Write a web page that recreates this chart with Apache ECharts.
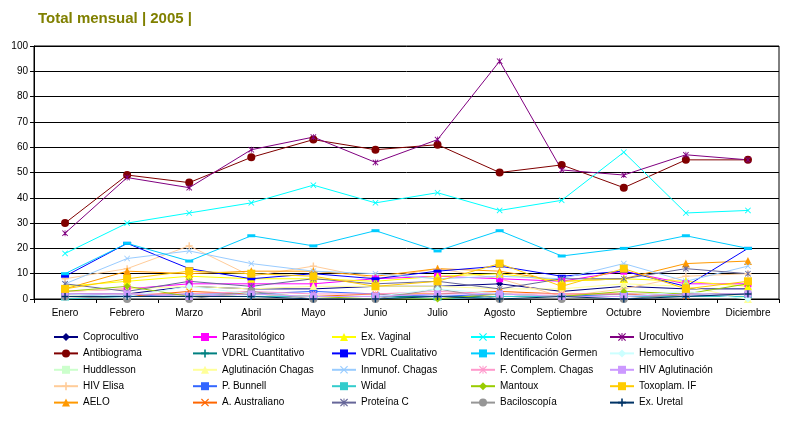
<!DOCTYPE html>
<html>
<head>
<meta charset="utf-8">
<script src="https://cdn.jsdelivr.net/npm/echarts@6/dist/echarts.min.js"></script>
<style>
html,body{margin:0;padding:0;background:#fff;}
#chart{width:796px;height:423px;}
</style>
</head>
<body>
<div id="chart"></div>
<script>
var meses = ['Enero','Febrero','Marzo','Abril','Mayo','Junio','Julio','Agosto','Septiembre','Octubre','Noviembre','Diciembre'];

// valores (aprox.)
var coprocultivo   = [2,2,5,4,4,5,5,6,3,5,4,4];
var antibiograma   = [30,49,46,56,63,59,61,50,53,44,55,55];
var huddlesson     = [1,2,1,2,1,1,1,1,1,2,2,2];
var hivElisa       = [8,12,21,9,13,8,12,8,1,4,9,10];
var aelo           = [4,11,10,11,11,9,12,11,7,8,14,15];
var parasitologico = [3,4,6,6,6,8,9,8,7,11,6,6];
var vdrlCuant      = [1,1,1,1,1,1,1,1,1,1,1,1];
var aglutChagas    = [3,4,5,4,5,5,5,4,4,6,5,0];
var pBunnell       = [2,1,2,2,3,2,1,2,1,2,1,2];
var aAustraliano   = [1,1,3,2,1,2,2,3,2,2,1,1];
var exVaginal      = [5,7,9,8,8,7,9,10,7,8,7,5];
var vdrlCual       = [9,22,12,8,10,8,11,13,9,11,5,20];
var inmunofChagas  = [6,16,19,14,11,10,8,9,8,14,7,13];
var widal          = [0,1,1,1,1,1,0,1,1,1,1,1];
var proteinaC      = [6,3,7,5,8,6,7,4,8,8,12,10];
var recuentoColon  = [18,30,34,38,45,38,42,35,39,58,34,35];
var identGermen    = [10,22,15,25,21,27,19,27,17,20,25,20];
var fComplem       = [2,2,2,3,2,2,3,2,2,2,2,2];
var mantoux        = [3,5,1,2,1,0,0,2,1,3,2,6];
var baciloscopia   = [1,0,0,3,0,0,4,0,0,0,2,2];
var urocultivo     = [26,48,44,59,64,54,63,94,51,49,57,55];
var hemocultivo    = [2,1,5,2,1,1,4,2,1,1,3,0];
var hivAglut       = [2,2,1,2,1,1,2,2,1,1,2,2];
var toxoplam       = [4,8,11,10,9,5,7,14,5,12,4,7];
var exUretal       = [1,1,1,1,0,0,1,0,1,0,1,2];

var yTicks = [0,10,20,30,40,50,60,70,80,90,100];

var PLUS = 'path://M4,0H6V4H10V6H6V10H4V6H0V4H4Z';
var CRUZ = 'path://M0,1L1,0L5,4L9,0L10,1L6,5L10,9L9,10L5,6L1,10L0,9L4,5Z';
var ESTRELLA = 'path://M0,1L1,0L5,4L9,0L10,1L6,5L10,9L9,10L5,6L1,10L0,9L4,5ZM4.4,0H5.6V10H4.4Z';

var series = [
  ['Coprocultivo', coprocultivo, '#000080', 'diamond', 7],
  ['Antibiograma', antibiograma, '#800000', 'circle', 8],
  ['Huddlesson', huddlesson, '#CCFFCC', 'rect', 7],
  ['HIV Elisa', hivElisa, '#FFCC99', PLUS, 7],
  ['AELO', aelo, '#FF9900', 'triangle', 8],
  ['Parasitológico', parasitologico, '#FF00FF', 'rect', 7],
  ['VDRL Cuantitativo', vdrlCuant, '#008080', PLUS, 7],
  ['Aglutinación Chagas', aglutChagas, '#FFFF99', 'triangle', 8],
  ['P. Bunnell', pBunnell, '#3366FF', 'rect', [8,3]],
  ['A. Australiano', aAustraliano, '#FF6600', CRUZ, 6],
  ['Ex. Vaginal', exVaginal, '#FFFF00', 'triangle', 8],
  ['VDRL Cualitativo', vdrlCual, '#0000FF', 'rect', [8,3]],
  ['Inmunof. Chagas', inmunofChagas, '#99CCFF', CRUZ, 6],
  ['Widal', widal, '#33CCCC', 'rect', [8,3]],
  ['Proteína C', proteinaC, '#666699', ESTRELLA, 6],
  ['Recuento Colon', recuentoColon, '#00FFFF', CRUZ, 6],
  ['Identificación Germen', identGermen, '#00CCFF', 'rect', [8,3]],
  ['F. Complem. Chagas', fComplem, '#FF99CC', ESTRELLA, 6],
  ['Mantoux', mantoux, '#99CC00', 'diamond', 7],
  ['Baciloscopía', baciloscopia, '#969696', 'circle', 8],
  ['Urocultivo', urocultivo, '#800080', ESTRELLA, 6],
  ['Hemocultivo', hemocultivo, '#CCFFFF', 'diamond', 7],
  ['HIV Aglutinación', hivAglut, '#CC99FF', 'rect', 7],
  ['Toxoplam. IF', toxoplam, '#FFCC00', 'rect', 8],
  ['Ex. Uretal', exUretal, '#003366', PLUS, 7]
];

var FUENTE = 'Liberation Sans, Arial, sans-serif';

var seriesData = [];
var nombres = [];
for (var i = 0; i < series.length; i++) {
  var s = series[i];
  nombres.push(s[0]);
  seriesData.push({
    name: s[0],
    type: 'line',
    data: s[1],
    symbol: s[3],
    symbolSize: s[4],
    showAllSymbol: true,
    lineStyle: { color: s[2], width: 1 },
    itemStyle: { color: s[2] },
    emphasis: { disabled: true }
  });
}

// leyenda en 5 columnas, como en el original
var colX = [53, 192, 331, 470, 609];
var legends = [];
for (var c = 0; c < 5; c++) {
  legends.push({
    orient: 'vertical',
    left: colX[c],
    top: 331,
    padding: 0,
    itemWidth: 24,
    itemHeight: 10,
    itemGap: 4.4,
    selectedMode: false,
    data: nombres.slice(c * 5, c * 5 + 5),
    textStyle: { fontFamily: FUENTE, fontSize: 10, color: '#000', lineHeight: 12 }
  });
}

var chart = echarts.init(document.getElementById('chart'));
chart.setOption({
  animation: false,
  backgroundColor: '#fff',
  title: {
    text: 'Total mensual | 2005 |',
    left: 38,
    top: 11,
    padding: 0,
    textStyle: { fontFamily: FUENTE, fontSize: 15, fontWeight: 'bold', color: '#808000' }
  },
  legend: legends,
  grid: {
    left: 34, right: 17, top: 46, bottom: 124,
    show: true, borderColor: '#000', borderWidth: 1
  },
  xAxis: {
    type: 'category',
    data: meses,
    boundaryGap: true,
    axisLine: { lineStyle: { color: '#000', width: 1 } },
    axisTick: { show: true, length: 4, lineStyle: { color: '#000' } },
    axisLabel: { color: '#000', fontFamily: FUENTE, fontSize: 10, margin: 9, interval: 0 }
  },
  yAxis: {
    type: 'value',
    min: yTicks[0],
    max: yTicks[yTicks.length - 1],
    interval: 10,
    axisLine: { show: true, lineStyle: { color: '#000', width: 1 } },
    axisTick: { show: true, length: 4, lineStyle: { color: '#000' } },
    axisLabel: { color: '#000', fontFamily: FUENTE, fontSize: 10, margin: 6 },
    splitLine: { show: true, lineStyle: { color: '#000', width: 1 } }
  },
  series: seriesData
});
</script>
</body>
</html>
